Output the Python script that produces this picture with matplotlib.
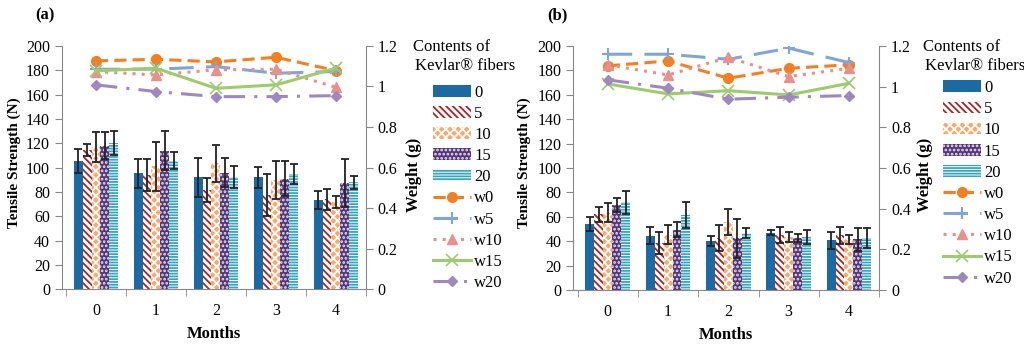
import numpy as np
import matplotlib
matplotlib.use('Agg')
import matplotlib.pyplot as plt

plt.rcParams['font.family'] = ['Liberation Serif', 'DejaVu Serif']
plt.rcParams['hatch.linewidth'] = 1.3

months = [0, 1, 2, 3, 4]
contents = ['0', '5', '10', '15', '20']
weights = ['w0', 'w5', 'w10', 'w15', 'w20']

# panel (a): tensile strength (N), mean and error
strength_a = [
    [105.5, 95.5, 92.0, 92.0, 73.5],
    [114.5, 94.0, 81.5, 77.5, 74.0],
    [117.0, 101.0, 103.5, 90.0, 71.5],
    [118.0, 114.0, 96.0, 91.0, 87.5],
    [120.0, 105.5, 92.0, 95.0, 88.0],
]
err_a = [
    [10.0, 12.0, 16.0, 8.5, 7.5],
    [5.0, 13.0, 10.0, 17.0, 8.5],
    [12.0, 20.0, 15.0, 15.5, 5.0],
    [11.0, 16.0, 12.0, 14.5, 19.5],
    [10.0, 7.0, 9.0, 8.0, 5.5],
]
# panel (a): weight (g)
weight_a = [
    [1.126, 1.134, 1.121, 1.144, 1.078],
    [1.085, 1.085, 1.098, 1.065, 1.074],
    [1.073, 1.057, 1.082, 1.085, 0.996],
    [1.077, 1.090, 0.991, 1.008, 1.090],
    [1.008, 0.975, 0.950, 0.950, 0.955],
]

# panel (b)
strength_b = [
    [54.0, 44.5, 40.0, 47.0, 41.0],
    [62.0, 39.0, 42.5, 45.0, 45.0],
    [63.5, 45.5, 56.0, 43.5, 41.5],
    [69.5, 49.5, 42.5, 42.5, 41.5],
    [72.0, 61.5, 47.0, 43.5, 43.0],
]
err_b = [
    [5.5, 7.0, 4.0, 2.2, 7.0],
    [6.0, 9.0, 10.5, 6.5, 7.0],
    [7.5, 7.5, 10.5, 3.7, 3.5],
    [5.7, 6.0, 16.0, 3.4, 9.6],
    [9.3, 10.5, 4.0, 6.0, 8.2],
]
weight_b = [
    [1.102, 1.126, 1.041, 1.090, 1.107],
    [1.159, 1.159, 1.134, 1.189, 1.118],
    [1.107, 1.057, 1.144, 1.049, 1.090],
    [1.013, 0.964, 0.980, 0.959, 1.016],
    [1.033, 0.992, 0.938, 0.948, 0.956],
]

bar_styles = [
    dict(color='#1c6aa3', edgecolor='#1c6aa3', hatch=None),
    dict(color='white', edgecolor='#a82424', hatch='\\\\\\\\\\'),
    dict(color='#fba868', edgecolor='white', hatch='xxxx'),
    dict(color='#553577', edgecolor='#e8e0f0', hatch='....'),
    dict(color='white', edgecolor='#38a5bf', hatch='------'),
]
line_styles = [
    dict(color='#f47f20', ls=(0, (4, 2)), marker='o', ms=7, lw=2.2),
    dict(color='#7fa6d6', ls=(0, (8, 4)), marker='+', ms=9, lw=2.2, mew=1.5),
    dict(color='#e8908c', ls=(0, (1, 2)), marker='^', ms=7, lw=2.2),
    dict(color='#9dcb6e', ls='-', marker='x', ms=8, lw=2.2, mew=1.2),
    dict(color='#9e88bf', ls=(0, (7, 3, 1, 3)), marker='D', ms=5, lw=2.2),
]


def draw_panel(fig, rect, strength, err, weight, tag, lab_x, wlab_x, leg_x, leg_y):
    ax = fig.add_axes(rect)
    x = np.arange(len(months))
    w = 0.148
    for i in range(len(contents)):
        st = bar_styles[i]
        ax.bar(x + (i - 2) * w, strength[i], w, color=st['color'],
               edgecolor=st['edgecolor'], hatch=st['hatch'], linewidth=0,
               label=contents[i], zorder=2)
        ax.errorbar(x + (i - 2) * w, strength[i], yerr=err[i], fmt='none',
                    ecolor='#222222', elinewidth=1.3, capsize=3, capthick=1.3,
                    zorder=3)
    ax.set_xlim(-0.57, 4.5)
    ax.set_ylim(0, 200)
    ax.set_yticks(range(0, 201, 20))
    ax.set_xticks(x)
    ax.set_xticks(np.arange(-0.5, 4.6, 1), minor=True)
    ax.tick_params(axis='x', which='major', length=0, pad=10, labelsize=11.5)
    ax.tick_params(axis='x', which='minor', length=5, color='#888888')
    ax.tick_params(axis='y', length=5, color='#888888', labelsize=11.5)
    for s in ['top', 'right']:
        ax.spines[s].set_visible(False)
    for s in ['left', 'bottom']:
        ax.spines[s].set_color('#888888')
    ax.set_xlabel('Months', fontsize=12, fontweight='bold', labelpad=5)
    ax.set_ylabel('Tensile Strength (N)', fontsize=11, fontweight='bold')
    ax.yaxis.set_label_coords(lab_x, 0.52)

    ax2 = ax.twinx()
    for i in range(len(weights)):
        st = dict(line_styles[i])
        ax2.plot(x, weight[i], label=weights[i], zorder=4, **st)
    ax2.set_ylim(0, 1.2)
    ax2.set_yticks([0, 0.2, 0.4, 0.6, 0.8, 1, 1.2])
    ax2.set_yticklabels(['0', '0.2', '0.4', '0.6', '0.8', '1', '1.2'])
    ax2.tick_params(axis='y', length=5, color='#888888', labelsize=11.5)
    for s in ['top', 'left', 'bottom']:
        ax2.spines[s].set_visible(False)
    ax2.spines['right'].set_color('#888888')
    ax2.set_ylabel('Weight (g)', fontsize=12, fontweight='bold')
    ax2.yaxis.set_label_coords(wlab_x, 0.47)

    h1, l1 = ax.get_legend_handles_labels()
    h2, l2 = ax2.get_legend_handles_labels()
    fig.legend(h1 + h2, l1 + l2, loc='upper left',
               bbox_to_anchor=(leg_x, leg_y), frameon=False,
               fontsize=12, handlelength=2.3, handletextpad=0.15,
               labelspacing=0.31, borderpad=0, borderaxespad=0)
    fig.text(leg_x + 0.018, 0.865, 'Contents of', fontsize=12, ha='center', va='center')
    fig.text(leg_x + 0.031, 0.808, 'Kevlar® fibers', fontsize=12, ha='center', va='center')
    fig.text(rect[0] - 0.026, 0.955, tag, fontsize=12, fontweight='bold', va='center')
    return ax


fig = plt.figure(figsize=(10.24, 3.45), dpi=100)
draw_panel(fig, [0.0603, 0.161, 0.297, 0.706], strength_a, err_a, weight_a,
           '(a)', -0.134, 1.133, 0.423, 0.755)
draw_panel(fig, [0.560, 0.159, 0.2985, 0.708], strength_b, err_b, weight_b,
           '(b)', -0.14, 1.125, 0.921, 0.768)
fig.savefig('out.png', dpi=100)
